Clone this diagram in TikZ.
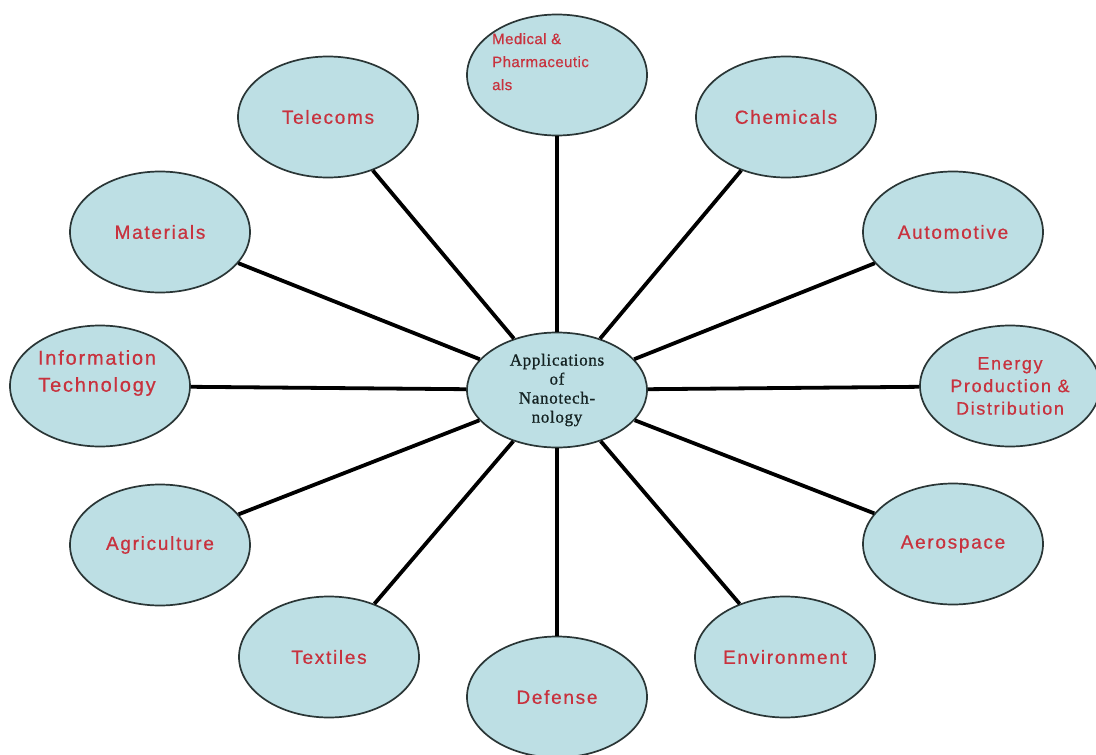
\documentclass[tikz,border=0pt]{standalone}
\usepackage{fontspec}
\setmainfont{Liberation Serif}
\newfontfamily\appfont[LetterSpace=9, FakeBold=0.6]{Liberation Sans}
\newfontfamily\medfont[LetterSpace=3, FakeBold=0.6]{Liberation Sans}
\newfontfamily\hubfont[LetterSpace=4, FakeBold=0.8]{Liberation Serif}
\usepackage{tikz}
\usetikzlibrary{shapes.geometric}
\definecolor{appfill}{HTML}{BDDFE4}
\definecolor{appedge}{HTML}{2A3636}
\definecolor{apptext}{HTML}{C8323E}
\definecolor{hubtext}{HTML}{142222}

\begin{document}
\begin{tikzpicture}[x=1pt, y=-1pt,
    appnode/.style={ellipse, draw=appedge, line width=1.7pt, fill=appfill,
                    minimum width=180pt, minimum height=121pt, inner sep=0pt,
                    text=apptext, align=center,
                    font=\appfont\fontsize{19}{23}\selectfont},
    hubnode/.style={appnode, minimum height=115pt, text=hubtext,
                    font=\hubfont\fontsize{17}{19}\selectfont},
    applbl/.style={inner sep=0pt, text=apptext},
    spoke/.style={line width=3.8pt, black}]
  \useasboundingbox[fill=white] (0,0) rectangle (1096,755);

  \node[hubnode] (hub) at (557,390) {Applications\\of\\Nanotech-\\nology};

  \foreach \nm/\x/\y/\lbl in {%
      tel/328/117/Telecoms,    chem/786/117/Chemicals,
      mat/160/232/Materials,   auto/953/232/Automotive,
      agri/160/545/Agriculture, aero/953/544/Aerospace,
      tex/329/657/Textiles,    env/785/657/Environment,
      def/557/697/Defense}
  {
    \node[appnode] (\nm) at (\x,\y) {\lbl};
  }

  % these three keep their text off the middle
  \node[appnode] (med) at (557,75) {};
  \node[applbl, anchor=north west, align=left,
        font=\medfont\fontsize{15}{23}\selectfont]
    (medtxt) at (492,33) {Medical \&\\Pharmaceutic\\als};
  \node[appnode] (info) at (100,386) {};
  \node[applbl, align=center, font=\appfont\fontsize{20}{27}\selectfont]
    (infotxt) at (97,373) {Information\\Technology};
  \node[appnode, font=\appfont\fontsize{18}{22.5}\selectfont]
    (energy) at (1010,386) {Energy\\Production \&\\Distribution};

  \foreach \nm in {med, tel, chem, mat, auto, info, energy,
                   agri, aero, tex, def, env}
    \draw[spoke] (hub) -- (\nm);
\end{tikzpicture}
\end{document}
